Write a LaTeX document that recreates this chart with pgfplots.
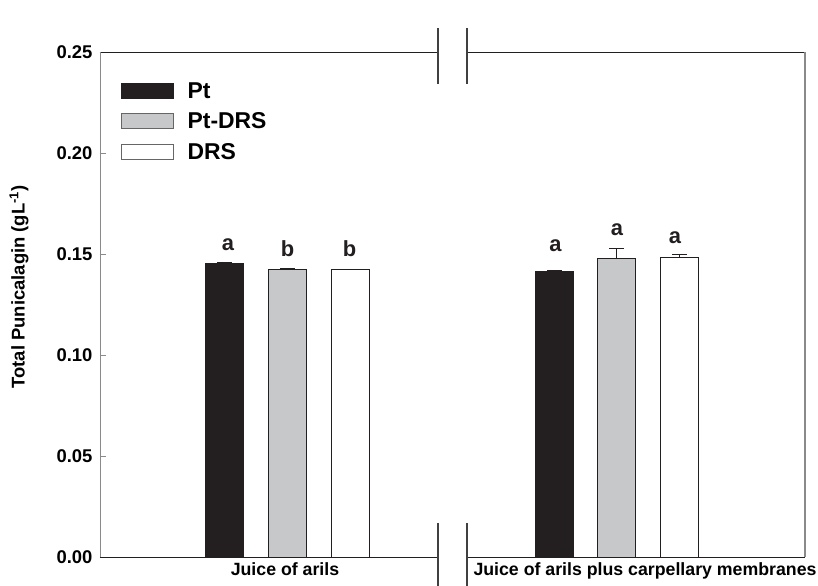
\documentclass[border=0pt]{standalone}
\usepackage{fontspec}
\setmainfont{Liberation Sans}
\usepackage{pgfplots}
\usepackage{pgfplotstable}
\pgfplotsset{compat=1.18}
\definecolor{barblack}{HTML}{231F20}
\definecolor{bargray}{HTML}{C7C8CA}
\definecolor{framegray}{HTML}{8A8A8A}

\pgfplotstableread{
x y err
224.8 0.1455 0.0005
554.5 0.1414 0.0003
}\dataPt
\pgfplotstableread{
x y err
287.8 0.1424 0.0003
616.8 0.1479 0.0049
}\dataPtDRS
\pgfplotstableread{
x y err
350.5 0.1422 0.0004
679.8 0.1482 0.0017
}\dataDRS
\pgfplotstableread{
x y lab
228 0.1517 a
287.5 0.1487 b
349.5 0.1487 b
555.5 0.1511 a
617 0.1592 a
675 0.1553 a
}\dataLab

\begin{document}
\begin{tikzpicture}
\useasboundingbox (-100bp,-29bp) rectangle (718bp,557bp);
\begin{axis}[
  scale only axis, width=705bp, height=505bp,
  xmin=100, xmax=805, ymin=0, ymax=0.25,
  axis line style={draw=none},
  clip=false,
  ytick={0,0.05,0.10,0.15,0.20,0.25},
  ytick pos=left, tick align=inside, major tick length=6bp,
  y tick style={framegray, line width=0.8pt},
  /pgf/number format/assume math mode=true,
  yticklabel style={font=\fontsize{18.5}{21}\selectfont\bfseries, xshift=-4bp,
    /pgf/number format/fixed, /pgf/number format/fixed zerofill, /pgf/number format/precision=2},
  xtick={285,645},
  xticklabels={Juice of arils, Juice of arils plus carpellary membranes},
  x tick style={draw=none},
  xticklabel style={font=\fontsize{17.8}{20}\selectfont\bfseries, yshift=-2bp},
  ylabel={Total Punicalagin (gL\textsuperscript{-1})},
  every axis y label/.style={at={(rel axis cs:-0.1149,0.5347)}, rotate=90, anchor=center,
    font=\fontsize{18.5}{21}\selectfont\bfseries},
  legend style={at={(0.0298,0.9392)}, anchor=north west, draw=none, fill=none,
    inner sep=0pt, outer sep=0pt, row sep=15bp,
    font=\fontsize{23}{26}\selectfont\bfseries,
    nodes={inner sep=0pt, text height=15bp, text depth=0pt},
    cells={anchor=west},
    /tikz/every odd column/.append style={column sep=14bp}},
  legend cell align=left,
]
\addplot[ybar, bar width=38, bar shift=0pt, fill=barblack, draw=barblack, line width=0.8pt,
  legend image code/.code={\draw[fill=barblack, draw=barblack, line width=0.6pt] (0bp,-7.5bp) rectangle (52bp,7.5bp);},
  error bars/.cd, y dir=plus, y explicit,
  error bar style={barblack, line width=0.8pt},
  error mark options={rotate=90, mark size=7.5bp, barblack, line width=0.8pt}]
  table[x=x, y=y, y error=err] {\dataPt};
\addlegendentry{Pt}
\addplot[ybar, bar width=38, bar shift=0pt, fill=bargray, draw=barblack, line width=0.8pt,
  legend image code/.code={\draw[fill=bargray, draw=black!60, line width=0.6pt] (0bp,-7.5bp) rectangle (52bp,7.5bp);},
  error bars/.cd, y dir=plus, y explicit,
  error bar style={barblack, line width=0.8pt},
  error mark options={rotate=90, mark size=7.5bp, barblack, line width=0.8pt}]
  table[x=x, y=y, y error=err] {\dataPtDRS};
\addlegendentry{Pt-DRS}
\addplot[ybar, bar width=38, bar shift=0pt, fill=white, draw=barblack, line width=0.8pt,
  legend image code/.code={\draw[fill=white, draw=black!60, line width=0.6pt] (0bp,-7.5bp) rectangle (52bp,7.5bp);},
  error bars/.cd, y dir=plus, y explicit,
  error bar style={barblack, line width=0.8pt},
  error mark options={rotate=90, mark size=7.5bp, barblack, line width=0.8pt}]
  table[x=x, y=y, y error=err] {\dataDRS};
\addlegendentry{DRS}
\addplot[forget plot, draw=none, mark=none, nodes near coords, point meta=explicit symbolic,
  nodes near coords style={anchor=base, inner sep=0pt, font=\fontsize{22}{24}\selectfont\bfseries, text=barblack}]
  table[x=x, y=y, meta=lab] {\dataLab};
% frame with axis break
\draw[barblack, line width=0.9pt] (axis cs:100,0.25) -- (axis cs:438,0.25);
\draw[barblack, line width=0.9pt] (axis cs:467,0.25) -- (axis cs:805,0.25);
\draw[barblack, line width=0.9pt] (axis cs:100,0) -- (axis cs:438,0);
\draw[barblack, line width=0.9pt] (axis cs:467,0) -- (axis cs:805,0);
\draw[framegray, line width=1.0pt] (axis cs:100,0) -- (axis cs:100,0.25);
\draw[framegray, line width=1.2pt] (axis cs:805,0) -- (axis cs:805,0.25);
\draw[black!75, line width=1.3pt] (axis cs:438,0.2619) -- (axis cs:438,0.2342);
\draw[black!75, line width=1.3pt] (axis cs:467,0.2619) -- (axis cs:467,0.2342);
\draw[black!75, line width=1.1pt] (axis cs:438,0.0168) -- (axis cs:438,-0.0144);
\draw[black!75, line width=1.1pt] (axis cs:467,0.0168) -- (axis cs:467,-0.0144);
\end{axis}
\end{tikzpicture}
\end{document}
